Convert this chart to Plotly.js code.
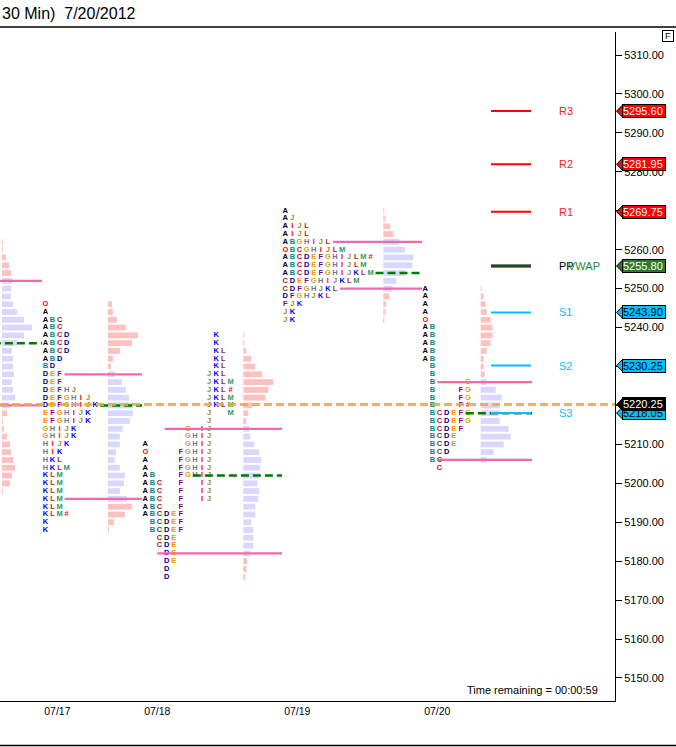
<!DOCTYPE html>
<html><head><meta charset="utf-8">
<script src="https://cdn.plot.ly/plotly-3.0.1.min.js"></script>
<style>html,body{margin:0;padding:0;background:#fff;}#chart{width:676px;height:747px;}</style>
</head><body><div id="chart"></div>
<script>
// ---------------- DATA ----------------
const dayLabels = ['07/17', '07/18', '07/19', '07/20'];
// time position of the first TPO column of each session (profile 0 = 07/16, mostly off-chart)
const sessionX = [-103.1, 45.4, 145.3, 285.3, 425.3];
const sessionEnd = [42, 142, 282, 422, 532];
const hiddenCols0 = 14;                 // profile 0 letters are off-chart

const tpoTop = [null, 5246, 5238, 5270, 5250];
const tpo0 = [];
const tpo1 = ['O','A','ABC','ABC','ABCD','ABCD','ABCD','ABD','BD','DEF','DEF','DEFHJ','DEFGHIJ','DEFGHIJK',
  'EFGHIJK','EFGHIJK','GHIJK','GHIJK','HIJK','HIK','HKL','HKLM','KLM','KLM','KLM','KLM','KLM','KLM#','K','K'];
const tpo2 = ['          K','          K','          KL','          KL','          KL','         JKL',
  '         JKLM','         JKL#','         JKLM','         JKLM','         J  M','         J',
  '      G IJ','      GHIJ','A     GHIJ','O    FGHIJ','A    FGHIJ','A    FGHIJ','AB   FGHIJ',
  'ABC  F  IJ','ABC  F  IJ','ABC  F  IJ','ABC  F','ABCDEF',' BCDEF',' BCDEF','  CDE','  CDE',
  '   DE','   DE','   D','   D'];
const tpo3 = ['A','AJ','AIJL','AIJL','ABGHIJL','OBCGHIJLM','ABCDEFGHIJLM#','ABCDEFGHIJLM','ABCDEFGHIJKLM',
  'CDEFGHIJKLM','CDFGHJKL','DFGHJKL','FJK','JK','JK'];
const tpo4 = ['A','A','A','A','O','AB','AB','AB','AB','AB',' B',' B',' B    G',' B   FG',' B   FG',
  ' B   F#',' BCDEFG',' BCDEFG',' BCDEF',' BCDE',' BCDE',' BCD',' BC','  C'];

const volTop = [5262, 5246, 5238, 5270, 5250];
const vol0 = [1,1,4,7,9,10,9,9,11,15,22,30,22,15,10,11,11,12,10,11,13,8,5,1,2,5,8,9,11,13,10,8,1];
const vol1 = [4,5,9,18,30,24,12,5,3,7,14,18,21,25,25,22,15,12,12,8,7,12,17,16,12,19,24,17,6,1];
const vol2 = [1,1,3,8,12,19,30,25,22,9,5,3,6,7,11,16,18,17,16,14,16,15,12,12,8,10,10,10,7,4,3,2];
const vol3 = [1,2,7,10,16,22,30,29,22,13,9,6,3,2,1];
const vol4 = [1,3,5,6,10,12,12,10,6,3,3,4,6,15,21,19,18,19,28,30,23,13,6];

const vah = [5252, 5228, 5214, 5262, 5226];
const val = [5220, 5196, 5182, 5250, 5206];
const poc = [5236, 5220, 5202, 5254, 5218];

const pivotNames = ['R3', 'R2', 'R1', 'PP', 'S1', 'S2', 'S3'];
const pivotValues = [5295.60, 5281.95, 5269.75, 5255.80, 5243.90, 5230.25, 5218.05];
const vwapValue = 5255.80;
const lastPrice = 5220.25;
const priceTicks = [5150,5160,5170,5180,5190,5200,5210,5220,5230,5240,5250,5260,5270,5280,5290,5300,5310];
const timeRemaining = '00:00:59';
const titleText = '30 Min)  7/20/2012';

// ---------------- STYLE ----------------
const PITCH = 7.1, ROW = 2;
const YMIN = 5144.09, YMAX = 5315.91;
const PLOT_W = 615, PLOT_H = 669, PLOT_TOP = 32;
const FONT = 'Liberation Sans, Arial, sans-serif';
const letterColors = {A:'#000000',B:'#008b8b',C:'#9b1c1c',D:'#00008b',E:'#ff8c00',F:'#8b008b',G:'#d4a017',
  H:'#6b7b8b',I:'#ff0000',J:'#9a8a1e',K:'#0000ff',L:'#a52a2a',M:'#2e9b57',O:'#ff0000','#':'#ff0000'};
const PINK = 'rgb(255,192,192)', LAV = 'rgb(216,216,255)';
const VA_COLOR = '#f06aa9', POC_COLOR = '#007a00';

const tpos = [tpo0, tpo1, tpo2, tpo3, tpo4];
const vols = [vol0, vol1, vol2, vol3, vol4];

const traces = [];
const shapes = [];
const annotations = [];
const py = v => (v - YMIN) / (YMAX - YMIN);
const pxX = p => p / PLOT_W;
const pxY = p => (PLOT_TOP + PLOT_H - p) / PLOT_H;

function rowCount(str) { return str.replace(/ /g, '').length; }

for (let p = 0; p < 5; p++) {
  const rows = tpos[p];
  const x0 = sessionX[p];
  const ncols = rows.length ? Math.max(...rows.map(r => r.length)) : hiddenCols0;
  // letters
  const tx = [], ty = [], tt = [], tc = [];
  rows.forEach((r, i) => {
    const price = tpoTop[p] - i * ROW;
    for (let c = 0; c < r.length; c++) {
      const ch = r[c];
      if (ch === ' ') continue;
      tx.push(x0 + c * PITCH); ty.push(price); tt.push(ch); tc.push(letterColors[ch]);
    }
  });
  // volume histogram
  const histX = x0 + ncols * PITCH + 5.7;
  const vy = vols[p].map((v, i) => volTop[p] - i * ROW);
  traces.push({
    type: 'bar', orientation: 'h', y: vy, x: vols[p], base: vy.map(() => histX), width: 1.5,
    marker: {color: vy.map(v => (v <= vah[p] && v >= val[p]) ? LAV : PINK), line: {width: 0}},
    hoverinfo: 'skip', showlegend: false
  });
  if (tx.length) traces.push({
    type: 'scatter', mode: 'text', x: tx, y: ty, text: tt, textposition: 'middle center',
    textfont: {family: FONT, size: 7.5, color: tc, weight: 'bold'},
    hoverinfo: 'skip', showlegend: false, cliponaxis: true
  });
  // value-area and POC lines start just after the row's letters
  const lineStart = price => {
    if (!rows.length) return x0;
    const r = rows[(tpoTop[p] - price) / ROW];
    return x0 + (rowCount(r) - 1) * PITCH + 5;
  };
  [vah[p], val[p]].forEach(v => shapes.push({type: 'line', xref: 'x', yref: 'y', x0: lineStart(v), x1: sessionEnd[p],
    y0: v, y1: v, line: {color: VA_COLOR, width: 2.2}, layer: 'above'}));
  shapes.push({type: 'line', xref: 'x', yref: 'y', x0: lineStart(poc[p]), x1: sessionEnd[p], y0: poc[p], y1: poc[p],
    line: {color: POC_COLOR, width: 2.5, dash: '8px,4px'}, layer: 'above'});
}

// pivot lines + labels
const pivotColor = n => n[0] === 'R' ? '#ff0000' : (n[0] === 'S' ? '#00bfff' : '#000000');
pivotNames.forEach((n, i) => {
  const v = pivotValues[i];
  if (n === 'PP') {
    shapes.push({type: 'line', xref: 'x', yref: 'y', x0: 491, x1: 531, y0: v, y1: v, line: {color: '#000', width: 3}, layer: 'above'});
  } else {
    shapes.push({type: 'line', xref: 'x', yref: 'y', x0: 491, x1: 531, y0: v, y1: v, line: {color: pivotColor(n), width: 2}, layer: 'above'});
  }
  annotations.push({xref: 'x', yref: 'y', x: 557, y: v, xanchor: 'left', yanchor: 'middle', text: n, showarrow: false,
    font: {family: FONT, size: 11, color: pivotColor(n) === '#ff0000' ? '#ff2020' : pivotColor(n)}});
});
shapes.push({type: 'line', xref: 'x', yref: 'y', x0: 491, x1: 531, y0: vwapValue, y1: vwapValue, line: {color: '#1f6f1f', width: 1.5}, layer: 'above'});
annotations.push({xref: 'x', yref: 'y', x: 566, y: vwapValue, xanchor: 'left', yanchor: 'middle', text: 'VWAP', showarrow: false,
  font: {family: FONT, size: 11, color: '#2a8a2a'}});

// last price line
shapes.push({type: 'line', xref: 'x', yref: 'y', x0: 0, x1: PLOT_W, y0: lastPrice, y1: lastPrice,
  line: {color: 'rgba(232,170,50,0.85)', width: 3, dash: '8px,4px'}, layer: 'above'});

// price flags on the right axis
const flags = pivotNames.map((n, i) => ({v: pivotValues[i],
  bg: n[0] === 'R' ? '#ff0000' : (n[0] === 'S' ? '#00bfff' : '#2a7a2a'),
  fg: n[0] === 'S' ? '#000000' : '#ffffff'}));
flags.push({v: lastPrice, bg: '#000000', fg: '#ffffff'});
flags.forEach(f => {
  const yc = py(f.v), dh = 6.5 / PLOT_H;
  shapes.push({type: 'path', xref: 'paper', yref: 'paper',
    path: `M ${pxX(616.5)},${yc} L ${pxX(623)},${yc + dh} L ${pxX(623)},${yc - dh} Z`,
    fillcolor: f.bg, line: {color: '#000', width: 1}, layer: 'above'});
  annotations.push({xref: 'paper', yref: 'y', x: pxX(622), y: f.v, xanchor: 'left', yanchor: 'middle',
    text: f.v.toFixed(2), showarrow: false, bgcolor: f.bg, bordercolor: '#000', borderwidth: 1, borderpad: 0,
    width: 42, height: 12, align: 'left', font: {family: FONT, size: 11, color: f.fg}});
});

// frame lines
shapes.push({type: 'line', xref: 'paper', yref: 'paper', x0: 0, x1: pxX(676), y0: pxY(27), y1: pxY(27), line: {color: '#000', width: 1.5}});
shapes.push({type: 'line', xref: 'paper', yref: 'paper', x0: 0, x1: pxX(676), y0: pxY(745.5), y1: pxY(745.5), line: {color: '#000', width: 1.5}});

annotations.push({xref: 'paper', yref: 'paper', x: 0, y: pxY(13), xanchor: 'left', yanchor: 'middle', text: titleText,
  showarrow: false, font: {family: FONT, size: 16, color: '#000'}});
annotations.push({xref: 'paper', yref: 'paper', x: pxX(668), y: pxY(36), xanchor: 'center', yanchor: 'middle', text: 'F',
  showarrow: false, bordercolor: '#000', borderwidth: 1, borderpad: 0, width: 10, height: 10,
  font: {family: FONT, size: 9, color: '#000'}});
annotations.push({xref: 'paper', yref: 'paper', x: pxX(600), y: pxY(690), xanchor: 'right', yanchor: 'middle',
  text: 'Time remaining = ' + timeRemaining, showarrow: false, font: {family: FONT, size: 11, color: '#000'}});

const layout = {
  width: 676, height: 747, autosize: false,
  margin: {l: 0, r: 61, t: PLOT_TOP, b: 46, pad: 0},
  paper_bgcolor: '#fff', plot_bgcolor: '#fff',
  barmode: 'overlay', showlegend: false,
  xaxis: {range: [0, PLOT_W], showgrid: false, zeroline: false, showline: true, linecolor: '#000', linewidth: 1,
    tickmode: 'array', tickvals: sessionX.slice(1).map(x => x + 12), ticktext: dayLabels, ticks: '',
    tickfont: {family: FONT, size: 10.5, color: '#000'}, automargin: false, fixedrange: true},
  yaxis: {range: [YMIN, YMAX], side: 'right', showgrid: false, zeroline: false, showline: true, linecolor: '#000',
    linewidth: 1, ticks: 'outside', ticklen: 6, tickcolor: '#000', tickmode: 'array', tickvals: priceTicks,
    ticktext: priceTicks.map(v => v.toFixed(2)), tickfont: {family: FONT, size: 11, color: '#000'},
    automargin: false, fixedrange: true},
  shapes: shapes, annotations: annotations
};
Plotly.newPlot('chart', traces, layout, {staticPlot: true, displayModeBar: false});
</script></body></html>
